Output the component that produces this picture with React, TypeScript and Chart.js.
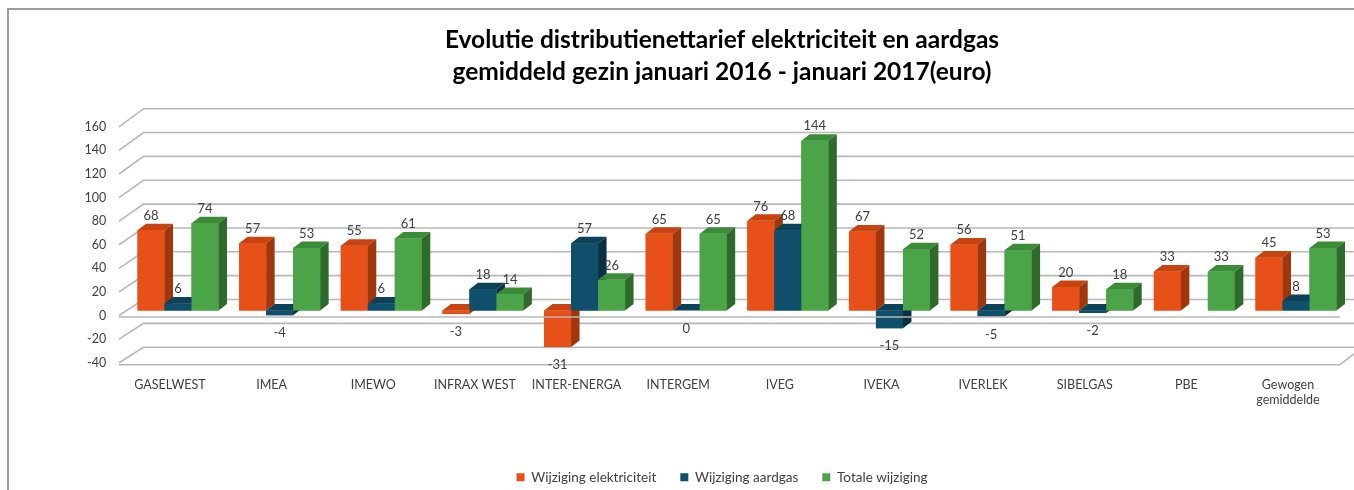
import React, { useEffect, useRef } from "react";
import { Chart, registerables } from "chart.js";

Chart.register(...registerables);

// ---------- data ----------
const categories: (string | string[])[] = [
  "GASELWEST",
  "IMEA",
  "IMEWO",
  "INFRAX WEST",
  "INTER-ENERGA",
  "INTERGEM",
  "IVEG",
  "IVEKA",
  "IVERLEK",
  "SIBELGAS",
  "PBE",
  ["Gewogen", "gemiddelde"],
];
const elektriciteit = [68, 57, 55, -3, -31, 65, 76, 67, 56, 20, 33, 45];
const aardgas: (number | null)[] = [6, -4, 6, 18, 57, 0, 68, -15, -5, -2, null, 8];
const totaal = [74, 53, 61, 14, 26, 65, 144, 52, 51, 18, 33, 53];
const seriesNames = ["Wijziging elektriciteit", "Wijziging aardgas", "Totale wijziging"];
const yMin = -40;
const yMax = 160;
const yStep = 20;
const titleLines = [
  "Evolutie distributienettarief elektriciteit en aardgas",
  "gemiddeld gezin januari 2016 - januari 2017(euro)",
];

// ---------- styles ----------
const FACES = [
  { front: "#E8501A", top: "#C7430F", side: "#A0360C" },
  { front: "#0F4F6B", top: "#0C4157", side: "#083042" },
  { front: "#4BA447", top: "#3C8B39", side: "#2E6B2B" },
];
const GRID = "#B8B8B8";
const TEXT = "#404040";
const DX = 8.5;
const DY = -6.5;

const threeD = {
  id: "threeD",
  beforeDatasetsDraw(chart: any) {
    const ctx = chart.ctx;
    const y = chart.scales.y;
    const { right, left } = chart.chartArea;
    const x0 = left - 8.2;
    const xBack = x0 + 24.5;
    const py0 = y.getPixelForValue(0);
    ctx.save();
    ctx.strokeStyle = GRID;
    ctx.lineWidth = 1.6;
    for (let t = yMin; t <= yMax; t += yStep) {
      const p = y.getPixelForValue(t);
      const ly = p + 5;
      const by = py0 - 11 + (p - py0) * 1.011;
      ctx.beginPath();
      ctx.moveTo(x0, ly);
      ctx.lineTo(xBack, by);
      ctx.lineTo(chart.width, by);
      ctx.stroke();
    }
    const pm = y.getPixelForValue(yMin) + 7;
    ctx.beginPath();
    ctx.moveTo(x0, pm);
    ctx.lineTo(right - 7, pm);
    ctx.lineTo(right - 7 + 24.5, pm - 18.5);
    ctx.stroke();
    ctx.restore();
  },
  afterDatasetsDraw(chart: any) {
    const ctx = chart.ctx;
    const y = chart.scales.y;
    const { left, right } = chart.chartArea;
    const n = chart.data.labels.length;
    ctx.save();
    const labels: { x: number; y: number; t: string }[] = [];
    for (let i = 0; i < n; i++) {
      for (let d = 0; d < chart.data.datasets.length; d++) {
        const v = chart.data.datasets[d].data[i];
        if (v === null || v === undefined) continue;
        const el = chart.getDatasetMeta(d).data[i];
        const p = el.getProps(["x", "y", "base", "width"], true);
        const l = p.x - p.width / 2;
        const r = p.x + p.width / 2;
        const top = Math.min(p.y, p.base);
        const bot = Math.max(p.y, p.base);
        const f = FACES[d];
        ctx.fillStyle = f.front;
        ctx.fillRect(l, top, r - l, bot - top);
        ctx.fillStyle = f.top;
        ctx.beginPath();
        ctx.moveTo(l, top);
        ctx.lineTo(r, top);
        ctx.lineTo(r + DX, top + DY);
        ctx.lineTo(l + DX, top + DY);
        ctx.closePath();
        ctx.fill();
        ctx.fillStyle = f.side;
        ctx.beginPath();
        ctx.moveTo(r, top);
        ctx.lineTo(r + DX, top + DY);
        ctx.lineTo(r + DX, bot + DY);
        ctx.lineTo(r, bot);
        ctx.closePath();
        ctx.fill();
        if (v > 0) labels.push({ x: p.x, y: top - 14.5, t: String(v) });
        else labels.push({ x: p.x, y: bot + 18, t: String(v) });
      }
    }
    // front axis line at 0
    const py0 = y.getPixelForValue(0);
    ctx.strokeStyle = GRID;
    ctx.lineWidth = 1.6;
    ctx.beginPath();
    ctx.moveTo(left - 8.2, py0 + 6.5);
    ctx.lineTo(right - 7, py0 + 6.5);
    ctx.stroke();
    // data labels
    ctx.fillStyle = TEXT;
    ctx.font = "13px Lato";
    ctx.textAlign = "center";
    ctx.textBaseline = "middle";
    for (const lb of labels) ctx.fillText(lb.t, lb.x, lb.y);
    ctx.restore();
  },
};

export default function App() {
  const ref = useRef<HTMLCanvasElement>(null);
  useEffect(() => {
    Chart.defaults.font.family = "Lato";
    const chart = new Chart(ref.current as HTMLCanvasElement, {
      type: "bar",
      data: {
        labels: categories,
        datasets: [
          { label: seriesNames[0], data: elektriciteit, backgroundColor: FACES[0].front },
          { label: seriesNames[1], data: aardgas, backgroundColor: FACES[1].front },
          { label: seriesNames[2], data: totaal, backgroundColor: FACES[2].front },
        ],
      },
      options: {
        responsive: false,
        maintainAspectRatio: false,
        animation: false,
        events: [],
        datasets: { bar: { barPercentage: 1, categoryPercentage: 0.797 } },
        layout: { padding: 0 },
        scales: {
          x: {
            grid: { display: false, drawTicks: false },
            border: { display: false },
            ticks: {
              labelOffset: -8,
              padding: 20,
              maxRotation: 0,
              autoSkip: false,
              color: TEXT,
              font: { family: "Lato", size: 12.5 },
            },
            afterFit: (s: any) => {
              s.height = 88.8;
            },
          },
          y: {
            position: "left",
            min: yMin,
            max: yMax,
            grid: { display: false, drawTicks: false },
            border: { display: false },
            ticks: {
              stepSize: yStep,
              labelOffset: 5,
              padding: 21,
              color: TEXT,
              font: { family: "Lato", size: 12.5 },
            },
            afterFit: (s: any) => {
              s.width = 127.2;
            },
          },
          yR: {
            position: "right",
            display: true,
            grid: { display: false, drawTicks: false },
            border: { display: false },
            ticks: { display: false },
            afterFit: (s: any) => {
              s.width = 97.2;
            },
          },
        },
        plugins: {
          tooltip: { enabled: false },
          title: {
            display: true,
            text: titleLines,
            color: "#000000",
            font: { family: "Lato", size: 24.5, weight: "bold", lineHeight: 1.306 },
            padding: { top: 24, bottom: 33.8 },
          },
          legend: {
            position: "bottom",
            labels: {
              boxWidth: 8,
              boxHeight: 8,
              padding: 24,
              color: TEXT,
              font: { family: "Lato", size: 13.5 },
            },
          },
        },
      },
      plugins: [threeD],
    } as any);
    return () => chart.destroy();
  }, []);
  return (
    <div
      style={{
        position: "fixed",
        left: 0,
        top: 0,
        width: 1354,
        height: 490,
        overflow: "hidden",
        background: "#ffffff",
      }}
    >
      <div
        style={{
          position: "absolute",
          left: 7,
          top: 8,
          width: 2000,
          height: 1000,
          borderLeft: "2px solid #9c9c9c",
          borderTop: "2px solid #9c9c9c",
        }}
      />
      <canvas
        ref={ref}
        width={1444}
        height={494}
        style={{ position: "absolute", left: 0, top: 0, width: 1444, height: 494 }}
      />
    </div>
  );
}
